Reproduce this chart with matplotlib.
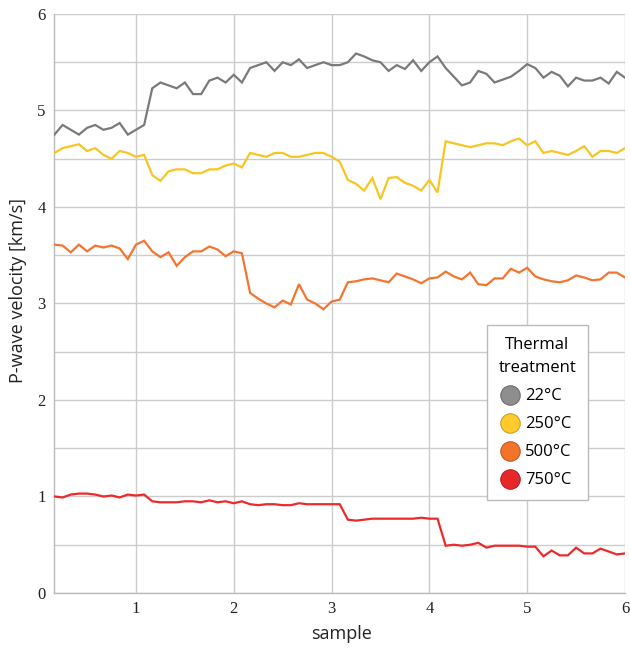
import numpy as np
import matplotlib
matplotlib.use('Agg')
import matplotlib.pyplot as plt
from matplotlib.lines import Line2D

SANS = 'Open Sans'
SERIF = 'Liberation Serif'
GRID = '#CCCCCC'

# P-wave velocity per sample, one list per thermal treatment
v22 = [4.75, 4.85, 4.80, 4.75, 4.82, 4.85, 4.80, 4.82, 4.87, 4.75,
       4.80, 4.85, 5.23, 5.29, 5.26, 5.23, 5.29, 5.17, 5.17, 5.31,
       5.34, 5.29, 5.37, 5.29, 5.44, 5.47, 5.50, 5.41, 5.50, 5.47,
       5.53, 5.44, 5.47, 5.50, 5.47, 5.47, 5.50,
       5.59, 5.56, 5.52, 5.50, 5.41, 5.47, 5.43, 5.52, 5.41, 5.50,
       5.56, 5.44, 5.35, 5.26, 5.29, 5.41, 5.38, 5.29, 5.32, 5.35,
       5.41, 5.48, 5.44, 5.34, 5.40, 5.36, 5.25, 5.34, 5.31, 5.31,
       5.34, 5.28, 5.40, 5.34]
v250 = [4.56, 4.61, 4.63, 4.65, 4.58, 4.61, 4.54, 4.50, 4.58, 4.56,
        4.52, 4.54, 4.33, 4.27, 4.37, 4.39, 4.39, 4.35, 4.35, 4.39,
        4.39, 4.43, 4.45, 4.41, 4.56, 4.54, 4.52, 4.56, 4.56, 4.52,
        4.52, 4.54, 4.56, 4.56, 4.52, 4.47, 4.28,
        4.24, 4.17, 4.30, 4.08, 4.30, 4.31, 4.25, 4.22, 4.17, 4.28,
        4.15, 4.68, 4.66, 4.64, 4.62, 4.64, 4.66, 4.66, 4.64, 4.68,
        4.71, 4.64, 4.68, 4.56, 4.58, 4.56, 4.54, 4.58, 4.63, 4.52,
        4.58, 4.58, 4.56, 4.61]
v500 = [3.61, 3.60, 3.53, 3.61, 3.54, 3.60, 3.58, 3.60, 3.57, 3.46,
        3.61, 3.65, 3.54, 3.48, 3.53, 3.39, 3.48, 3.54, 3.54, 3.59,
        3.56, 3.49, 3.54, 3.52, 3.11, 3.05, 3.00, 2.96, 3.03, 2.99,
        3.20, 3.04, 3.00, 2.94, 3.02, 3.04, 3.22,
        3.23, 3.25, 3.26, 3.24, 3.22, 3.31, 3.28, 3.25, 3.21, 3.26,
        3.27, 3.33, 3.28, 3.25, 3.32, 3.20, 3.19, 3.26, 3.26, 3.36,
        3.32, 3.37, 3.28, 3.25, 3.23, 3.22, 3.24, 3.29, 3.27, 3.24,
        3.25, 3.32, 3.32, 3.27]
v750 = [1.00, 0.99, 1.02, 1.03, 1.03, 1.02, 1.00, 1.01, 0.99, 1.02,
        1.01, 1.02, 0.95, 0.94, 0.94, 0.94, 0.95, 0.95, 0.94, 0.96,
        0.94, 0.95, 0.93, 0.95, 0.92, 0.91, 0.92, 0.92, 0.91, 0.91,
        0.93, 0.92, 0.92, 0.92, 0.92, 0.92, 0.76,
        0.75, 0.76, 0.77, 0.77, 0.77, 0.77, 0.77, 0.77, 0.78, 0.77,
        0.77, 0.49, 0.50, 0.49, 0.50, 0.52, 0.47, 0.49, 0.49, 0.49,
        0.49, 0.48, 0.48, 0.38, 0.44, 0.39, 0.39, 0.47, 0.41, 0.41,
        0.46, 0.43, 0.40, 0.41]

labels = ['22°C', '250°C', '500°C', '750°C']
series = [v22, v250, v500, v750]
line_colors = ['#7A7A7A', '#F7C623', '#F47530', '#EC2A2C']
dot_colors = ['#8E8E8E', '#FFCA2B', '#F27329', '#E8272B']
dot_edges = ['#6E6E6E', '#C9A227', '#C65A20', '#B81E22']

# samples are spaced 1/12 apart, first one at 1/6
x = (np.arange(len(v22)) + 2) / 12

fig = plt.figure(figsize=(6.3, 6.5), dpi=100)
ax = fig.add_axes([0.0857, 0.0877, 0.9063, 0.8908])

for vals, c in zip(series, line_colors):
    ax.plot(x, vals, color=c, lw=1.6, solid_joinstyle='miter', zorder=3)

ax.set_xlim(x[0] - 0.005, 6)
ax.set_ylim(0, 6)
ax.set_xticks(range(1, 7))
ax.set_yticks(range(0, 7))
ax.set_yticks(np.arange(0.5, 6, 1), minor=True)
ax.grid(True, which='major', color=GRID, lw=1.0)
ax.grid(True, which='minor', axis='y', color=GRID, lw=1.0)
ax.tick_params(which='both', length=0, pad=6, labelsize=12)
for t in ax.get_xticklabels() + ax.get_yticklabels():
    t.set_fontfamily(SERIF)
    t.set_color('#222222')

for s in ['top', 'right']:
    ax.spines[s].set_visible(False)
for s in ['left', 'bottom']:
    ax.spines[s].set_color('#BBBBBB')
    ax.spines[s].set_linewidth(1.0)

ax.set_xlabel('sample', fontfamily=SANS, fontsize=13, color='#222222')
ax.set_ylabel('P-wave velocity [km/s]', fontfamily=SANS, fontsize=13,
              color='#222222')
ax.xaxis.set_label_coords(0.504, -0.071)
ax.yaxis.set_label_coords(-0.063, 0.523)
ax.xaxis.label.set_va('center')
ax.yaxis.label.set_va('center')

handles = [Line2D([], [], ls='none', marker='o', markersize=14,
                  markerfacecolor=fc, markeredgecolor=ec, markeredgewidth=0.8)
           for fc, ec in zip(dot_colors, dot_edges)]
leg = ax.legend(handles, labels, title='Thermal\ntreatment',
                loc='upper left', bbox_to_anchor=(0.758, 0.462),
                frameon=True, fancybox=False, framealpha=1,
                edgecolor='#BBBBBB', facecolor='white',
                prop={'family': SANS, 'size': 12},
                title_fontproperties={'family': SANS, 'size': 12},
                handletextpad=0.45, handlelength=0.9, labelspacing=0.72,
                borderpad=0.7, borderaxespad=0)
leg.get_title().set_multialignment('center')
leg.get_title().set_linespacing(1.6)
leg.get_frame().set_linewidth(1.0)

fig.savefig('out.png', dpi=100, facecolor='white')
